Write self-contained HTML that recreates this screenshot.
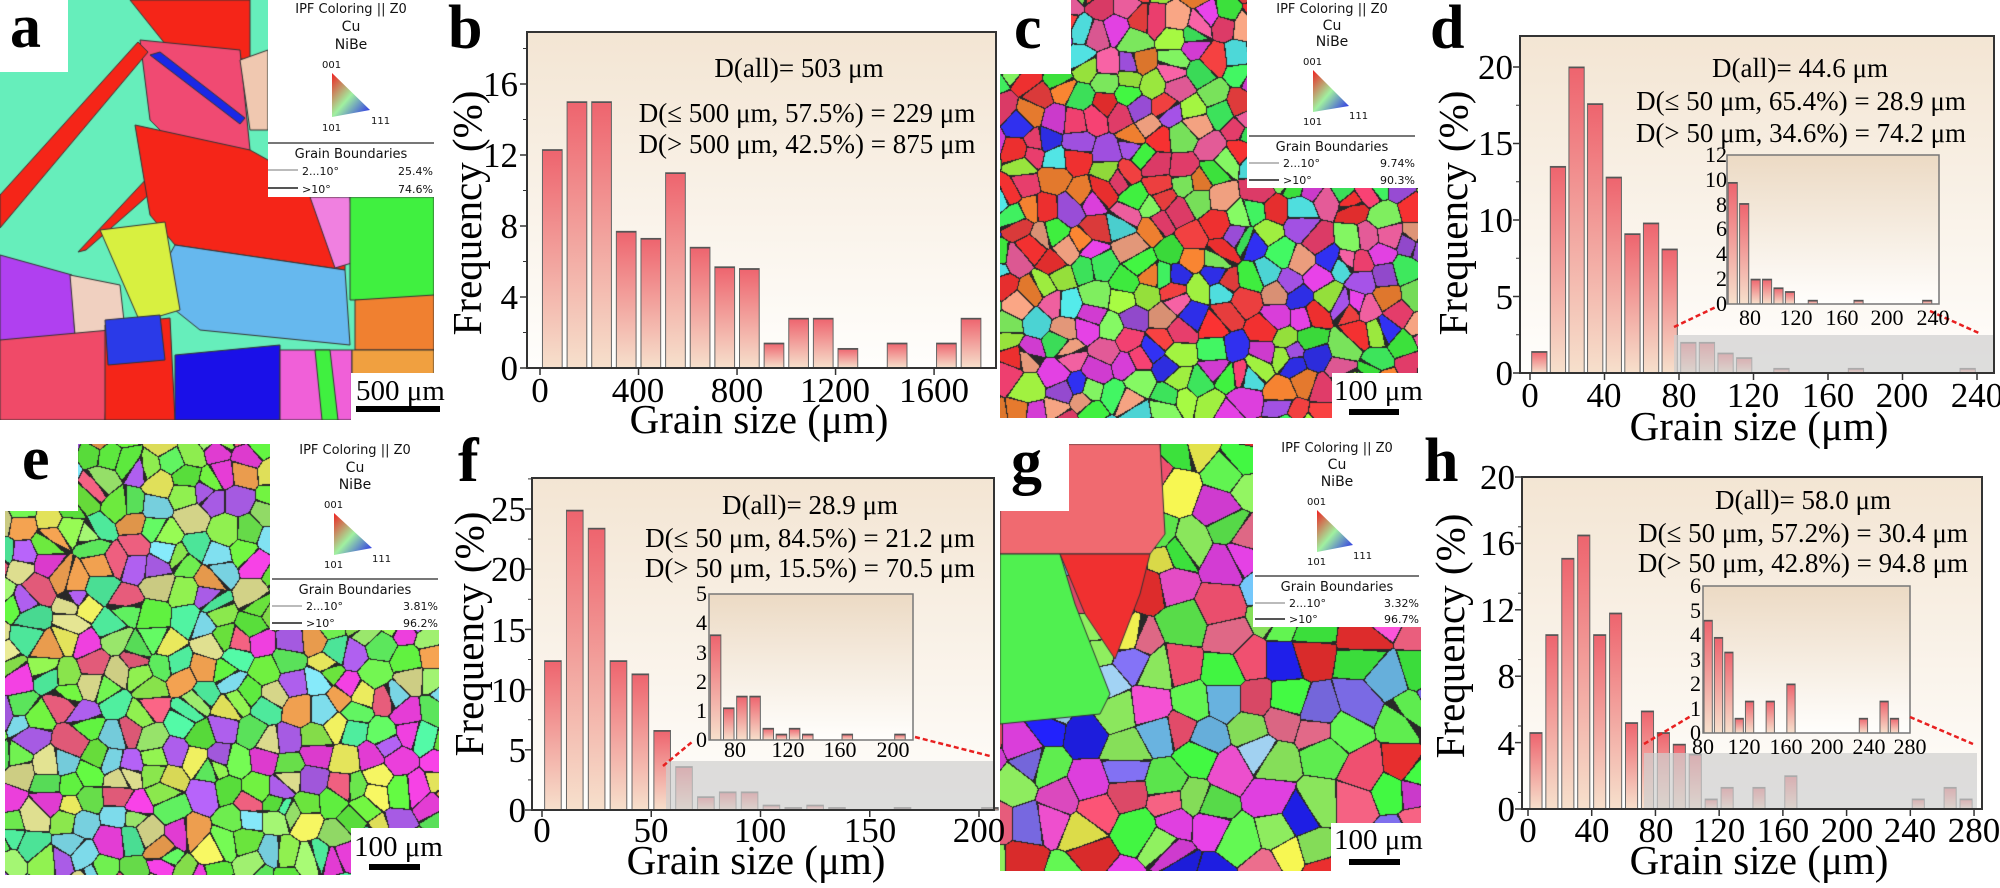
<!DOCTYPE html>
<html><head><meta charset="utf-8">
<style>
html,body{margin:0;padding:0;background:#fff;}
#wrap{position:relative;width:2000px;height:888px;overflow:hidden;background:#fff;}
canvas{position:absolute;}
svg{position:absolute;left:0;top:0;}
.t{font-family:"Liberation Serif",serif;fill:#000;}
.l{font-family:"DejaVu Sans",sans-serif;fill:#111;}
</style></head><body>
<div id="wrap">
<canvas id="ma" width="434" height="420" style="left:0;top:0"></canvas>
<canvas id="mc" width="418" height="418" style="left:1000px;top:0"></canvas>
<canvas id="me" width="434" height="431" style="left:5px;top:444px"></canvas>
<canvas id="mg" width="421" height="427" style="left:1000px;top:444px"></canvas>
<svg id="s" width="2000" height="888" viewBox="0 0 2000 888">
<defs>
<linearGradient id="bar" x1="0" y1="0" x2="0" y2="1"><stop offset="0" stop-color="#ee646e"/><stop offset="1" stop-color="#f6e0cc"/></linearGradient>
<linearGradient id="bg" x1="0" y1="0" x2="0" y2="1"><stop offset="0" stop-color="#f3e5d3"/><stop offset="1" stop-color="#fffefc"/></linearGradient>
<linearGradient id="ibg" x1="0" y1="0" x2="0" y2="1"><stop offset="0" stop-color="#ecdac4"/><stop offset="1" stop-color="#fffefc"/></linearGradient>
<linearGradient id="tri" x1="0" y1="0" x2="1" y2="1"><stop offset="0" stop-color="#f02020"/><stop offset="0.5" stop-color="#a0f0a0"/><stop offset="1" stop-color="#2020f0"/></linearGradient>
</defs>
<rect x="0" y="0" width="68" height="72" fill="#fff"/>
<rect x="268" y="0" width="166" height="197" fill="#fff"/>
<rect x="351" y="373" width="85" height="47" fill="#fff"/>
<rect x="1000" y="0" width="71" height="74" fill="#fff"/>
<rect x="1247" y="0" width="172" height="188" fill="#fff"/>
<rect x="1332" y="373" width="87" height="46" fill="#fff"/>
<rect x="0" y="444" width="78" height="67" fill="#fff"/>
<rect x="0" y="444" width="5" height="444" fill="#fff"/>
<rect x="270" y="444" width="170" height="186" fill="#fff"/>
<rect x="351" y="828" width="89" height="47" fill="#fff"/>
<rect x="1000" y="444" width="69" height="67" fill="#fff"/>
<rect x="1253" y="444" width="168" height="183" fill="#fff"/>
<rect x="1331" y="823" width="90" height="48" fill="#fff"/>

<g transform="translate(268,0)">
<text class="l" x="83" y="13" font-size="13" text-anchor="middle">IPF Coloring || Z0</text>
<text class="l" x="83" y="31" font-size="14" text-anchor="middle">Cu</text>
<text class="l" x="83" y="49" font-size="14" text-anchor="middle">NiBe</text>
<text class="l" x="54" y="68" font-size="10">001</text>
<polygon points="64,73 64,117 102,110" fill="url(#tri)"/>
<text class="l" x="54" y="131" font-size="10">101</text>
<text class="l" x="103" y="124" font-size="10">111</text>
<line x1="0" y1="143" x2="166" y2="143" stroke="#777" stroke-width="2"/>
<text class="l" x="83" y="158" font-size="13" text-anchor="middle">Grain Boundaries</text>
<line x1="0" y1="170" x2="30" y2="170" stroke="#bbb" stroke-width="2"/>
<text class="l" x="34" y="175" font-size="11">2...10°</text>
<text class="l" x="165" y="175" font-size="11" text-anchor="end">25.4%</text>
<line x1="0" y1="188" x2="30" y2="188" stroke="#555" stroke-width="2"/>
<text class="l" x="34" y="193" font-size="11">&gt;10°</text>
<text class="l" x="165" y="193" font-size="11" text-anchor="end">74.6%</text>
</g>
<g transform="translate(1249,0)">
<text class="l" x="83" y="13" font-size="13" text-anchor="middle">IPF Coloring || Z0</text>
<text class="l" x="83" y="30" font-size="14" text-anchor="middle">Cu</text>
<text class="l" x="83" y="46" font-size="14" text-anchor="middle">NiBe</text>
<text class="l" x="54" y="65" font-size="10">001</text>
<polygon points="64,70 64,112 100,106" fill="url(#tri)"/>
<text class="l" x="54" y="125" font-size="10">101</text>
<text class="l" x="100" y="119" font-size="10">111</text>
<line x1="0" y1="136" x2="166" y2="136" stroke="#777" stroke-width="2"/>
<text class="l" x="83" y="151" font-size="13" text-anchor="middle">Grain Boundaries</text>
<line x1="0" y1="163" x2="30" y2="163" stroke="#bbb" stroke-width="2"/>
<text class="l" x="34" y="167" font-size="11">2...10°</text>
<text class="l" x="166" y="167" font-size="11" text-anchor="end">9.74%</text>
<line x1="0" y1="180" x2="30" y2="180" stroke="#555" stroke-width="2"/>
<text class="l" x="34" y="184" font-size="11">&gt;10°</text>
<text class="l" x="166" y="184" font-size="11" text-anchor="end">90.3%</text>
</g>
<g transform="translate(272,444)">
<text class="l" x="83" y="10" font-size="13" text-anchor="middle">IPF Coloring || Z0</text>
<text class="l" x="83" y="28" font-size="14" text-anchor="middle">Cu</text>
<text class="l" x="83" y="45" font-size="14" text-anchor="middle">NiBe</text>
<text class="l" x="52" y="64" font-size="10">001</text>
<polygon points="62,69 62,111 100,104" fill="url(#tri)"/>
<text class="l" x="52" y="124" font-size="10">101</text>
<text class="l" x="100" y="118" font-size="10">111</text>
<line x1="0" y1="135" x2="166" y2="135" stroke="#777" stroke-width="2"/>
<text class="l" x="83" y="150" font-size="13" text-anchor="middle">Grain Boundaries</text>
<line x1="0" y1="162" x2="30" y2="162" stroke="#bbb" stroke-width="2"/>
<text class="l" x="34" y="166" font-size="11">2...10°</text>
<text class="l" x="166" y="166" font-size="11" text-anchor="end">3.81%</text>
<line x1="0" y1="179" x2="30" y2="179" stroke="#555" stroke-width="2"/>
<text class="l" x="34" y="183" font-size="11">&gt;10°</text>
<text class="l" x="166" y="183" font-size="11" text-anchor="end">96.2%</text>
</g>
<g transform="translate(1255,444)">
<text class="l" x="82" y="8" font-size="13" text-anchor="middle">IPF Coloring || Z0</text>
<text class="l" x="82" y="25" font-size="14" text-anchor="middle">Cu</text>
<text class="l" x="82" y="42" font-size="14" text-anchor="middle">NiBe</text>
<text class="l" x="52" y="61" font-size="10">001</text>
<polygon points="62,66 62,108 98,101" fill="url(#tri)"/>
<text class="l" x="52" y="121" font-size="10">101</text>
<text class="l" x="98" y="115" font-size="10">111</text>
<line x1="0" y1="132" x2="164" y2="132" stroke="#777" stroke-width="2"/>
<text class="l" x="82" y="147" font-size="13" text-anchor="middle">Grain Boundaries</text>
<line x1="0" y1="159" x2="30" y2="159" stroke="#bbb" stroke-width="2"/>
<text class="l" x="34" y="163" font-size="11">2...10°</text>
<text class="l" x="164" y="163" font-size="11" text-anchor="end">3.32%</text>
<line x1="0" y1="175" x2="30" y2="175" stroke="#555" stroke-width="2"/>
<text class="l" x="34" y="179" font-size="11">&gt;10°</text>
<text class="l" x="164" y="179" font-size="11" text-anchor="end">96.7%</text>
</g>

<text class="t" x="356" y="400" font-size="29">500 μm</text>
<rect x="356" y="406" width="84" height="6" fill="#000"/>
<text class="t" x="1334" y="400" font-size="29">100 μm</text>
<rect x="1349" y="409" width="50" height="6" fill="#000"/>
<text class="t" x="354" y="856" font-size="29">100 μm</text>
<rect x="369" y="864" width="51" height="6" fill="#000"/>
<text class="t" x="1334" y="849" font-size="29">100 μm</text>
<rect x="1349" y="859" width="51" height="6" fill="#000"/>

<g class="t" font-size="62" font-weight="bold">
<text x="10" y="47">a</text>
<text x="448" y="48">b</text>
<text x="1014" y="48">c</text>
<text x="1430" y="48">d</text>
<text x="22" y="479">e</text>
<text x="458" y="481">f</text>
<text x="1011" y="482">g</text>
<text x="1424" y="481">h</text>
</g>

<g id="charts"></g>

<g class="t" font-size="35" text-anchor="end">
<text x="518" y="380">0</text><text x="518" y="309">4</text><text x="518" y="238">8</text><text x="518" y="167">12</text><text x="518" y="96">16</text>
</g>
<g class="t" font-size="35" text-anchor="middle">
<text x="540" y="402">0</text><text x="638" y="402">400</text><text x="737" y="402">800</text><text x="835" y="402">1200</text><text x="934" y="402">1600</text>
</g>
<text class="t" x="759" y="433" font-size="41" text-anchor="middle">Grain size (μm)</text>
<text class="t" font-size="41" text-anchor="middle" transform="translate(481,213) rotate(-90)">Frequency (%)</text>
<g class="t" font-size="27" text-anchor="middle">
<text x="799" y="77">D(all)= 503 μm</text>
<text x="807" y="122">D(≤ 500 μm, 57.5%) = 229 μm</text>
<text x="807" y="153">D(&gt; 500 μm, 42.5%) = 875 μm</text>
</g>

<g class="t" font-size="35" text-anchor="end">
<text x="1513" y="385">0</text><text x="1513" y="309">5</text><text x="1513" y="232">10</text><text x="1513" y="155">15</text><text x="1513" y="79">20</text>
</g>
<g class="t" font-size="35" text-anchor="middle">
<text x="1530" y="407">0</text><text x="1604" y="407">40</text><text x="1679" y="407">80</text><text x="1753" y="407">120</text><text x="1828" y="407">160</text><text x="1902" y="407">200</text><text x="1977" y="407">240</text>
</g>
<text class="t" x="1759" y="440" font-size="41" text-anchor="middle">Grain size (μm)</text>
<text class="t" font-size="41" text-anchor="middle" transform="translate(1467,213) rotate(-90)">Frequency (%)</text>
<g class="t" font-size="27" text-anchor="middle">
<text x="1800" y="77">D(all)= 44.6 μm</text>
<text x="1801" y="110">D(≤ 50 μm, 65.4%) = 28.9 μm</text>
<text x="1801" y="142">D(&gt; 50 μm, 34.6%) = 74.2 μm</text>
</g>
<g class="t" font-size="22" text-anchor="end">
<text x="1727" y="311">0</text><text x="1727" y="286">2</text><text x="1727" y="261">4</text><text x="1727" y="236">6</text><text x="1727" y="212">8</text><text x="1727" y="187">10</text><text x="1727" y="162">12</text>
</g>
<g class="t" font-size="22" text-anchor="middle">
<text x="1750" y="325">80</text><text x="1796" y="325">120</text><text x="1842" y="325">160</text><text x="1887" y="325">200</text><text x="1933" y="325">240</text>
</g>

<g class="t" font-size="35" text-anchor="end">
<text x="526" y="822">0</text><text x="526" y="762">5</text><text x="526" y="702">10</text><text x="526" y="642">15</text><text x="526" y="581">20</text><text x="526" y="521">25</text>
</g>
<g class="t" font-size="35" text-anchor="middle">
<text x="542" y="842">0</text><text x="651" y="842">50</text><text x="760" y="842">100</text><text x="870" y="842">150</text><text x="979" y="842">200</text>
</g>
<text class="t" x="756" y="874" font-size="41" text-anchor="middle">Grain size (μm)</text>
<text class="t" font-size="41" text-anchor="middle" transform="translate(483,634) rotate(-90)">Frequency (%)</text>
<g class="t" font-size="27" text-anchor="middle">
<text x="810" y="514">D(all)= 28.9 μm</text>
<text x="810" y="547">D(≤ 50 μm, 84.5%) = 21.2 μm</text>
<text x="810" y="577">D(&gt; 50 μm, 15.5%) = 70.5 μm</text>
</g>
<g class="t" font-size="22" text-anchor="end">
<text x="707" y="747">0</text><text x="707" y="718">1</text><text x="707" y="689">2</text><text x="707" y="660">3</text><text x="707" y="630">4</text><text x="707" y="601">5</text>
</g>
<g class="t" font-size="22" text-anchor="middle">
<text x="735" y="757">80</text><text x="788" y="757">120</text><text x="840" y="757">160</text><text x="893" y="757">200</text>
</g>

<g class="t" font-size="35" text-anchor="end">
<text x="1515" y="821">0</text><text x="1515" y="755">4</text><text x="1515" y="688">8</text><text x="1515" y="622">12</text><text x="1515" y="555">16</text><text x="1515" y="489">20</text>
</g>
<g class="t" font-size="35" text-anchor="middle">
<text x="1528" y="842">0</text><text x="1592" y="842">40</text><text x="1656" y="842">80</text><text x="1719" y="842">120</text><text x="1783" y="842">160</text><text x="1847" y="842">200</text><text x="1910" y="842">240</text><text x="1974" y="842">280</text>
</g>
<text class="t" x="1759" y="874" font-size="41" text-anchor="middle">Grain size (μm)</text>
<text class="t" font-size="41" text-anchor="middle" transform="translate(1464,636) rotate(-90)">Frequency (%)</text>
<g class="t" font-size="27" text-anchor="middle">
<text x="1803" y="509">D(all)= 58.0 μm</text>
<text x="1803" y="542">D(≤ 50 μm, 57.2%) = 30.4 μm</text>
<text x="1803" y="572">D(&gt; 50 μm, 42.8%) = 94.8 μm</text>
</g>
<g class="t" font-size="22" text-anchor="end">
<text x="1701" y="740">0</text><text x="1701" y="716">1</text><text x="1701" y="691">2</text><text x="1701" y="667">3</text><text x="1701" y="642">4</text><text x="1701" y="618">5</text><text x="1701" y="593">6</text>
</g>
<g class="t" font-size="22" text-anchor="middle">
<text x="1703" y="754">80</text><text x="1744" y="754">120</text><text x="1786" y="754">160</text><text x="1827" y="754">200</text><text x="1869" y="754">240</text><text x="1910" y="754">280</text>
</g>
</svg>
</div>
<script>
(function(){
var NS="http://www.w3.org/2000/svg";
var G=document.getElementById('charts');
function el(n,a,p){var e=document.createElementNS(NS,n);for(var k in a)e.setAttribute(k,a[k]);(p||G).appendChild(e);return e;}
function bars(o,data,start,bin,bw,x0,sx,y0,sy){
  for(var i=0;i<data.length;i++){var v=data[i];if(v<=0)continue;
    var x=x0+(start-o+i*bin+bin*(1-bw)/2)*sx,w=bin*bw*sx,h=v*sy;
    el('rect',{x:x,y:y0-h,width:w,height:h,fill:'url(#bar)',stroke:'#666','stroke-width':1});
    el('line',{x1:x,y1:y0-h+0.5,x2:x+w,y2:y0-h+0.5,stroke:'#555','stroke-width':1.5});}
}
function chart(c){
  el('rect',{x:c.box[0],y:c.box[1],width:c.box[2]-c.box[0],height:c.box[3]-c.box[1],fill:'url(#bg)'});
  bars(0,c.data,0,c.bin,c.bw,c.x0,c.sx,c.y0,c.sy);
  if(c.grey)el('rect',{x:c.grey[0],y:c.grey[1],width:c.grey[2]-c.grey[0],height:c.grey[3]-c.grey[1],fill:'#cfcfcf','fill-opacity':0.7});
  c.yt.forEach(function(v){var y=c.y0-v*c.sy;el('line',{x1:c.box[0]-7,y1:y,x2:c.box[0],y2:y,stroke:'#333','stroke-width':1.5});
    var y2=c.y0-(v+c.ys/2)*c.sy;if(y2>c.box[1])el('line',{x1:c.box[0]-4,y1:y2,x2:c.box[0],y2:y2,stroke:'#333','stroke-width':1});});
  c.xt.forEach(function(v){var x=c.x0+v*c.sx;el('line',{x1:x,y1:c.box[3],x2:x,y2:c.box[3]+7,stroke:'#333','stroke-width':1.5});});
  el('rect',{x:c.box[0],y:c.box[1],width:c.box[2]-c.box[0],height:c.box[3]-c.box[1],fill:'none',stroke:'#333','stroke-width':2});
  if(c.inset){var n=c.inset;
    el('rect',{x:n.box[0],y:n.box[1],width:n.box[2]-n.box[0],height:n.box[3]-n.box[1],fill:'url(#ibg)'});
    bars(n.o,n.data,n.o,c.bin,0.8,n.box[0],n.sx,n.box[3],n.sy);
    el('rect',{x:n.box[0],y:n.box[1],width:n.box[2]-n.box[0],height:n.box[3]-n.box[1],fill:'none',stroke:'#777','stroke-width':1.5});
    n.dash.forEach(function(d){el('line',{x1:d[0],y1:d[1],x2:d[2],y2:d[3],stroke:'#e82020','stroke-width':2.5,'stroke-dasharray':'5,3'});});
  }
}
chart({box:[527,32,996,368],x0:540,sx:0.2463,y0:368,sy:17.75,bin:100,bw:0.8,
 data:[12.3,15,15,7.7,7.3,11,6.8,5.7,5.6,1.4,2.8,2.8,1.1,0,1.4,0,1.4,2.8],yt:[0,4,8,12,16],ys:4,xt:[0,400,800,1200,1600]});
chart({box:[1520,36,1994,373],x0:1530,sx:1.8625,y0:373,sy:15.3,bin:10,bw:0.82,
 data:[1.4,13.5,20,17.6,12.8,9.1,9.8,8.1,2,2,1.3,1.0,0,0.3,0,0,0,0.3,0,0,0,0,0,0.3],yt:[0,5,10,15,20],ys:5,xt:[0,40,80,120,160,200,240],
 grey:[1674,335,1994,373],
 inset:{box:[1727,155,1939,304],o:60,sx:1.144,sy:12.4,data:[9.8,8.1,2,2,1.3,1.0,0,0.3,0,0,0,0.3,0,0,0,0,0,0.3],
  dash:[[1674,327,1716,307],[1930,311,1981,334]]}});
chart({box:[532,478,994,810],x0:542,sx:2.185,y0:810,sy:12.04,bin:10,bw:0.76,
 data:[12.4,24.9,23.4,12.4,11.3,6.6,3.6,1.1,1.5,1.5,0.4,0.2,0.4,0.2,0,0,0.2,0,0,0,0.2],yt:[0,5,10,15,20,25],ys:5,xt:[0,50,100,150,200],
 grey:[666,761,994,810],
 inset:{box:[709,594,913,740],o:60,sx:1.317,sy:29.2,data:[3.6,1.1,1.5,1.5,0.4,0.2,0.4,0.2,0,0,0.2,0,0,0,0.2],
  dash:[[663,766,692,742],[915,737,990,756]]}});
chart({box:[1522,477,1982,809],x0:1528,sx:1.593,y0:809,sy:16.6,bin:10,bw:0.76,
 data:[4.6,10.5,15.1,16.5,10.5,11.8,5.2,5.9,4.6,3.9,3.3,0.6,1.3,0,1.3,0,2.0,0,0,0,0,0,0,0,0.6,0,1.3,0.6],yt:[0,4,8,12,16,20],ys:2,xt:[0,40,80,120,160,200,240,280],
 grey:[1644,753,1977,809],
 inset:{box:[1703,586,1910,733],o:80,sx:1.035,sy:24.5,data:[4.6,3.9,3.3,0.6,1.3,0,1.3,0,2.0,0,0,0,0,0,0,0.6,0,1.3,0.6],
  dash:[[1644,744,1691,716],[1910,717,1973,744]]}});

var seed=1;function rnd(){seed=(seed*16807)%2147483647;return (seed-1)/2147483646;}
function hex(h){return [parseInt(h.substr(1,2),16),parseInt(h.substr(3,2),16),parseInt(h.substr(5,2),16)];}
function voronoi(id,cs,pal,s){
  seed=s;var cv=document.getElementById(id),ctx=cv.getContext('2d'),W=cv.width,H=cv.height;
  var gw=Math.ceil(W/cs)+2,gh=Math.ceil(H/cs)+2,P=[];
  var cols=pal.map(hex);
  for(var j=0;j<gh;j++)for(var i=0;i<gw;i++){var c=cols[Math.floor(rnd()*cols.length)];
    var b=0.9+rnd()*0.15;P.push([(i-1+rnd())*cs,(j-1+rnd())*cs,[c[0]*b,c[1]*b,c[2]*b]]);}
  var img=ctx.createImageData(W,H),d=img.data;
  for(var y=0;y<H;y++){var gy=Math.floor(y/cs)+1;for(var x=0;x<W;x++){var gx=Math.floor(x/cs)+1;
    var b1=1e9,b2=1e9,bi=null;
    for(var dj=-1;dj<=1;dj++)for(var di=-1;di<=1;di++){var jj=gy+dj,ii=gx+di;if(jj<0||ii<0||jj>=gh||ii>=gw)continue;
      var p=P[jj*gw+ii],dx=p[0]-x,dy=p[1]-y,dd=dx*dx+dy*dy;
      if(dd<b1){b2=b1;b1=dd;bi=p;}else if(dd<b2)b2=dd;}
    var k=(y*W+x)*4,c=bi[2];
    if(Math.sqrt(b2)-Math.sqrt(b1)<1.1){d[k]=40;d[k+1]=40;d[k+2]=40;}else{d[k]=Math.min(255,c[0]);d[k+1]=Math.min(255,c[1]);d[k+2]=Math.min(255,c[2]);}
    d[k+3]=255;}}
  ctx.putImageData(img,0,0);return ctx;
}
function poly(ctx,pts,col){ctx.beginPath();ctx.moveTo(pts[0],pts[1]);for(var i=2;i<pts.length;i+=2)ctx.lineTo(pts[i],pts[i+1]);ctx.closePath();ctx.fillStyle=col;ctx.fill();ctx.strokeStyle='#333';ctx.lineWidth=1;ctx.stroke();}
var ca=document.getElementById('ma').getContext('2d');
ca.fillStyle='#66eebb';ca.fillRect(0,0,434,420);
poly(ca,[130,0,250,0,250,60,170,50],'#f52518');
poly(ca,[140,40,240,50,250,150,190,160,150,120],'#f04a72');
poly(ca,[150,55,160,52,245,118,240,124],'#1a28e6');
poly(ca,[240,60,268,50,268,130,250,130],'#f0c8b0');
poly(ca,[0,195,138,42,148,52,0,228],'#f52518');
poly(ca,[78,252,150,175,160,185,86,250],'#f52518');
poly(ca,[135,125,250,150,268,160,345,200,345,270,175,245,150,215],'#f52518');
poly(ca,[175,245,345,270,350,345,200,330,150,290],'#66b8ee');
poly(ca,[100,230,165,222,180,310,140,322],'#d8f040');
poly(ca,[0,255,72,275,75,340,0,345],'#b040f0');
poly(ca,[70,275,120,285,125,330,75,335],'#f0d0c0');
poly(ca,[310,197,350,197,355,262,335,268],'#f080e0');
poly(ca,[350,197,434,197,434,300,350,300],'#40f040');
poly(ca,[355,300,434,295,434,350,355,350],'#f08030');
poly(ca,[0,340,110,330,105,420,0,420],'#f04a68');
poly(ca,[105,325,170,318,175,420,105,420],'#f52518');
poly(ca,[105,320,160,315,165,360,108,365],'#2a3ae8');
poly(ca,[175,355,280,345,280,420,175,420],'#1a10e8');
poly(ca,[280,350,352,350,352,420,280,420],'#f060d8');
poly(ca,[315,350,330,350,338,420,322,420],'#40f040');
poly(ca,[352,350,434,350,434,420,352,420],'#f0a040');
voronoi('mc',22,['#f03030','#f04070','#e040e0','#40f040','#3030f0','#f08030','#a050e0','#50e0e0','#f0a080','#80f060','#f060a0','#a0f040','#f04040','#40f060'],7);
voronoi('me',23,['#70f040','#60f060','#90f050','#a0f070','#f040e0','#f0f060','#f06080','#80e0f0','#e0e090','#50f0a0','#f0a050','#b060f0','#70f050','#60f040'],13);
var cg=voronoi('mg',34,['#f05070','#f06080','#40f040','#2020f0','#e040e0','#70c0f0','#a0d0f0','#f0f050','#f03030','#90f060','#f07090','#8070f0','#f050d0','#60f050'],29);
poly(cg,[0,0,160,0,165,90,150,110,60,110,0,110],'#f06a70');
poly(cg,[0,110,60,110,75,160,110,250,100,270,0,280],'#50f050');
poly(cg,[60,110,150,110,140,150,115,215,85,170],'#f03030');
})();
</script>
</body></html>
